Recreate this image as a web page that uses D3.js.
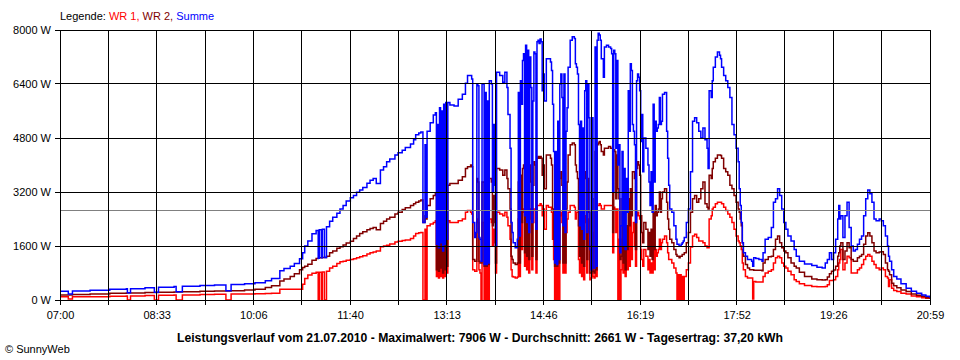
<!DOCTYPE html>
<html><head><meta charset="utf-8">
<script src="https://cdn.jsdelivr.net/npm/d3@7"></script>
<style>
body{margin:0;background:#fff}
svg{display:block}
text{font-family:"Liberation Sans",Arial,sans-serif;font-size:11px;fill:#000}
</style>
</head><body>
<svg id="chart" width="960" height="360"></svg>
<script>
// minutes after 07:00
const minutes = [0,6,8,12,29,48,64,65,68,82,91,95,110,112,118,135,149,160,165,178,188,198,204,212,216,222,226,231,234,236,239,243,247,249,250,252,253,255,257,260,263,267,270,273,276,280,283,286,289,292,296,299,302,305,309,312,315,318,323,326,330,333,338,341,343,346,348,350,352,353,354,357,360,362,363,364,365,366,367,368,369,370,371,372,373,374,376,380,384,388,391,393,396,397,398,400,401,402,403,404,405,406,407,408,409,410,411,412,413,414,416,417,418,419,420,421,424,427,429,431,432,434,435,436,437,439,441,442,443,444,445,446,447,448,449,450,451,452,453,454,455,456,457,458,459,460,461,462,463,464,465,466,467,469,471,473,474,475,476,477,478,479,480,481,482,483,484,485,486,487,488,489,490,492,494,496,497,498,499,500,501,502,503,504,505,506,507,508,509,510,511,512,513,514,515,516,517,518,519,520,521,522,524,525,527,529,531,532,533,534,535,536,537,538,539,540,541,542,543,544,545,546,547,548,549,550,551,552,553,554,555,556,557,558,559,560,561,562,563,565,567,568,569,570,571,572,573,574,575,576,577,578,579,580,581,583,585,586,587,588,590,592,594,595,596,597,598,599,600,601,602,604,606,608,610,612,614,616,618,620,622,624,625,626,628,629,630,632,634,636,637,638,640,642,644,646,648,650,652,654,655,656,657,658,659,661,663,665,667,668,669,671,674,677,678,680,683,686,688,690,692,694,696,698,700,702,705,708,710,713,718,725,730,735,738,740,742,744,746,748,750,751,752,753,755,757,759,761,763,765,767,769,771,773,775,777,779,781,783,785,787,790,792,794,796,798,799,800,802,804,807,811,816,821,826,831,835,839];

const wr1 = [100,100,30,100,100,110,115,0,120,130,0,140,150,0,150,160,170,0,180,180,185,190,200,315,315,315,315,320,470,640,740,790,820,0,820,0,830,0,850,950,1000,1080,1135,1150,1180,1200,1220,1250,1280,1310,1360,1400,1420,1450,1580,1600,1620,1660,1720,1740,1760,1780,1820,1900,1970,1990,2000,0,2100,0,2200,2250,2300,2350,700,2300,650,2350,700,2300,650,2400,700,2400,800,2350,2300,2300,2350,2400,2600,2650,2600,2550,900,850,850,2400,2300,900,800,0,2300,2300,0,2200,0,2200,0,2400,2300,1600,2100,1700,800,2600,2550,2500,2600,2450,2200,1800,900,700,680,650,680,2400,700,2500,1500,2600,2700,1000,2800,900,2800,800,2700,2400,900,2300,2700,2700,800,2800,2800,2800,2850,2800,2500,2700,2100,2800,2750,2750,2600,1800,1200,0,1400,0,2200,0,2500,2600,2300,800,2700,800,2000,2400,2600,2800,2800,2750,2400,2600,2600,1200,800,2000,700,1900,600,2300,2500,800,2400,1600,600,650,2000,700,650,2600,700,2800,2800,2850,2800,2700,2700,2800,2800,2800,2800,2800,1400,2750,2700,2000,2700,0,1800,0,900,1800,800,1600,700,1500,900,2200,1000,2500,1200,2000,2300,1600,1000,2500,2600,2500,2400,1500,1200,1000,1500,1300,900,1200,800,1100,800,1500,900,1500,1300,1400,1500,1800,1500,1700,1800,1900,1700,1400,1200,1200,1100,950,800,0,750,0,750,0,700,0,700,900,1100,1570,1900,1950,1850,1750,1750,1700,1600,1550,1550,2400,2500,2700,2750,2850,2900,2900,2900,2850,2750,2650,2550,2450,2300,2100,1900,1750,1700,1600,1500,1100,900,700,650,650,650,30,550,530,530,530,700,800,850,900,1100,1250,1300,1250,1100,1000,950,850,750,600,550,480,430,400,390,390,400,450,580,580,600,700,900,1100,1200,1500,900,1100,1300,1250,800,800,800,900,950,1050,1200,1300,1350,1300,1150,1050,950,900,950,900,700,650,400,600,350,280,250,200,180,120,100,70,50,30];

const wr2 = [150,150,150,160,180,200,210,210,210,220,225,230,240,240,245,260,265,270,275,295,320,370,420,560,620,700,780,900,960,1000,1060,1180,1230,1240,1250,1250,1260,1260,1300,1400,1450,1530,1580,1630,1690,1740,1820,1900,1970,2020,2080,2120,2150,2080,2270,2330,2400,2450,2550,2600,2680,2730,2800,2850,2900,2930,2960,2300,2500,2400,2800,3000,3100,3150,900,3100,850,3300,950,3200,800,3300,900,3400,1000,3400,3450,3450,3550,3650,3900,3950,4000,3950,1200,1150,1150,3600,3500,1150,1100,1100,3500,3500,1000,3300,1000,3300,1050,3600,3500,2200,3100,2300,1100,3900,3850,3700,3850,3600,3300,2700,1300,1200,1100,1050,1100,3500,1100,3700,2300,3900,4000,1400,4100,1300,4000,1200,4000,3500,1300,3400,4100,4000,1200,4200,4250,4200,4250,4200,3700,4000,3300,4300,4300,4200,4000,2700,1800,1000,2000,1000,3200,1100,3600,3800,3400,1100,3800,1100,2700,3500,4300,4600,4650,4600,4000,3800,3600,2200,1300,3200,1100,3000,1000,3600,3800,1200,3600,2600,800,800,3000,850,800,4400,900,4600,4650,4700,4600,4400,4300,4500,4500,4550,4500,4500,2000,4450,4400,3000,4300,3300,3000,1200,1300,3000,1100,2500,900,2200,1500,3000,2200,3300,2500,3800,3800,3600,1500,3900,4100,4000,3700,2500,2000,1700,2300,2100,1500,2000,1300,2100,1200,2600,1500,2800,2500,2600,2700,3200,2600,3000,3200,3300,2900,2400,2100,1800,1700,1500,1350,1300,1300,1250,1300,1300,1350,1350,1400,1700,2000,2600,3000,3100,2900,3000,3300,3500,2850,2750,2700,3700,3600,3900,4100,4200,4300,4300,4280,4200,3900,3800,3700,3400,3300,3100,2900,2700,2600,2400,2200,1700,1300,1050,950,900,900,900,880,880,880,870,1100,1200,1280,1300,1500,1800,1900,1700,1550,1450,1400,1250,1100,1000,950,820,700,620,600,590,600,680,780,850,890,1000,1300,1400,1600,1700,1200,1450,1700,1550,1200,1150,1150,1250,1300,1350,1650,1900,1990,1900,1700,1450,1400,1420,1430,1350,1100,900,850,750,500,420,360,300,250,180,140,110,70,40];

const summe = [260,260,180,270,290,320,330,215,335,360,230,380,400,245,405,430,445,275,460,480,510,570,640,870,930,1000,1080,1220,1400,1600,1750,1960,2060,1240,2080,1250,2100,1260,2170,2330,2450,2570,2700,2800,2930,3030,3100,3190,3260,3330,3460,3550,3600,3450,3850,3950,4100,4180,4300,4360,4440,4520,4620,4750,4900,4950,4980,2300,4600,2450,5000,5250,5480,5550,1650,5200,1550,5700,1700,5600,1450,5800,1650,5850,1800,5850,5780,5750,5950,6100,6420,6650,6650,6550,2300,1850,2000,6400,6350,1850,1800,1150,6400,6400,1050,6150,1050,5900,1100,6500,6400,3200,5200,3400,1600,6750,6650,6450,6750,6300,5500,4500,2300,2000,1700,1550,1800,6150,1900,6500,5800,7100,7300,2500,7550,2300,7400,2000,7200,6300,2300,5900,7350,7300,2100,7650,7700,7600,7730,7650,6200,6700,5900,7150,7150,7050,6800,5800,4400,1100,4400,1050,5300,1200,6400,6700,6000,2200,6700,2000,5000,5700,6900,7700,7800,7750,7000,6900,6700,5200,2200,5300,2100,5100,1800,6200,6500,2000,6400,5400,1500,900,5400,950,950,7500,1000,7700,7906,7850,7700,7150,6600,7500,7550,7500,7450,7300,3200,7400,7300,4500,7100,4000,4600,1400,2200,4400,1600,3900,1500,3600,2600,6200,5000,7000,6800,5200,5000,4600,2300,6500,6700,6600,6200,4700,5500,3800,4800,4500,4000,3500,2800,3800,2600,5800,3500,5300,5000,5100,5200,6000,5200,5300,6100,6150,5000,4200,3400,2700,2600,2200,1800,1650,1650,1600,1600,1650,1700,1750,1850,2300,2700,3800,5300,5400,5250,5000,4800,5100,4750,4500,3900,6200,6000,6500,6900,7200,7350,7250,7150,6900,6650,6500,6300,6000,5200,4900,4500,4100,3300,2800,2300,1700,1400,1300,1200,1200,1150,1000,1250,1230,1200,1150,1400,1800,1850,2150,2900,3000,3300,3100,2700,2300,2100,1900,1750,1500,1300,1150,1070,1020,970,950,1100,1200,1400,1200,1400,1800,2400,2800,2400,2500,1850,2500,2900,2150,1600,1450,1500,1650,1800,1900,2500,3000,3260,3150,2900,2400,2350,2400,2350,2200,1900,1600,1300,1150,900,700,620,480,350,260,200,150,110,60];

const seriesNames = ["WR 1", "WR 2", "Summe"];
const seriesColors = ["#ff0000", "#800000", "#0000ff"];
const yTicks = [0, 1600, 3200, 4800, 6400, 8000];
const xTickLabels = ["07:00","08:33","10:06","11:40","13:13","14:46","16:19","17:52","19:26","20:59"];
const totalMinutes = 839;
const averageW = 2661;
const titleText = "Leistungsverlauf vom 21.07.2010 - Maximalwert: 7906 W - Durchschnitt: 2661 W - Tagesertrag: 37,20 kWh";

const svg = d3.select("#chart");
const x = d3.scaleLinear().domain([0, totalMinutes]).range([60, 930]);
const y = d3.scaleLinear().domain([0, 8000]).range([300, 30]);
const snap = v => Math.round(v) + 0.5;

// series (WR 1, WR 2, Summe on top)
const allSeries = [wr1, wr2, summe];
const line = d3.line().curve(d3.curveStepAfter);
allSeries.forEach((vals, i) => {
  const pts = minutes.map((m, k) => [x(m), y(vals[k])]);
  svg.append("path").attr("d", line(pts)).attr("fill", "none")
    .attr("stroke", seriesColors[i]).attr("stroke-width", 1.5)
    .attr("stroke-linejoin", "miter");
});

// average line
svg.append("line").attr("x1", 60).attr("x2", 930)
  .attr("y1", snap(y(averageW))).attr("y2", snap(y(averageW)))
  .attr("stroke", "#808080").attr("stroke-width", 1);

// grid
const grid = svg.append("g").attr("stroke", "#000").attr("stroke-width", 1).attr("shape-rendering", "crispEdges");
yTicks.forEach(v => {
  grid.append("line").attr("x1", 55).attr("x2", 930.5).attr("y1", snap(y(v) - 0.5)).attr("y2", snap(y(v) - 0.5));
});
const vCount = (xTickLabels.length - 1) * 2;
d3.range(vCount + 1).forEach(i => {
  const xv = snap(x(i * totalMinutes / vCount) - 0.5);
  grid.append("line").attr("x1", xv).attr("x2", xv).attr("y1", 30).attr("y2", 305);
});

// y axis labels
const yAxis = d3.axisLeft(y).tickValues(yTicks).tickFormat(d => d + " W").tickSize(0).tickPadding(0);
const ya = svg.append("g").attr("transform", "translate(51,0)").call(yAxis);
ya.select(".domain").remove();
ya.selectAll("text").style("font-family", '"Liberation Sans",Arial,sans-serif').style("font-size", "11px").attr("fill", "#000").attr("dy", "0.36em");

// x axis labels
const labelMinutes = xTickLabels.map((_, i) => i * totalMinutes / (xTickLabels.length - 1));
const xAxis = d3.axisBottom(x).tickValues(labelMinutes).tickFormat((d, i) => xTickLabels[i]).tickSize(0).tickPadding(0);
const xa = svg.append("g").attr("transform", "translate(0,311)").call(xAxis);
xa.select(".domain").remove();
xa.selectAll("text").style("font-family", '"Liberation Sans",Arial,sans-serif').style("font-size", "11px").attr("fill", "#000").attr("dy", "0.71em");

// legend
const leg = svg.append("text").attr("x", 60).attr("y", 20);
leg.append("tspan").text("Legende: ");
seriesNames.forEach((n, i) => {
  leg.append("tspan").attr("fill", seriesColors[i]).text(n + (i < seriesNames.length - 1 ? ", " : ""));
});

// title
svg.append("text").attr("x", 480).attr("y", 342).attr("text-anchor", "middle")
  .style("font-weight", "bold").style("font-size", "12px")
  .attr("textLength", 606).attr("lengthAdjust", "spacingAndGlyphs")
  .text(titleText);

// copyright
svg.append("text").attr("x", 5).attr("y", 353).style("font-size", "11px").text("\u00A9 SunnyWeb");
</script>
</body></html>
